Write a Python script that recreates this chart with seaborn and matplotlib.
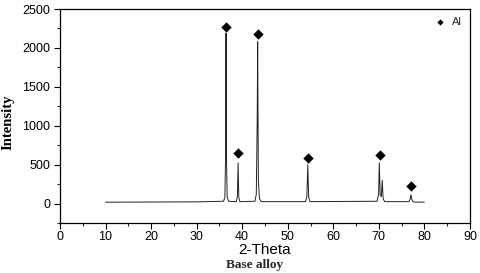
import matplotlib
matplotlib.use("Agg")
import matplotlib.pyplot as plt
import seaborn as sns
import pandas as pd
from matplotlib.ticker import MultipleLocator

# traced XRD profile (2-theta, intensity)
two_theta = [10.0, 20.0, 30.0, 35.9, 36.2, 36.35, 36.45, 36.55, 36.7, 37.0,
             38.7, 38.95, 39.1, 39.25, 39.5,
             42.8, 43.1, 43.3, 43.4, 43.55, 43.8, 44.2,
             53.9, 54.2, 54.4, 54.6, 54.9,
             69.6, 69.95, 70.1, 70.3, 70.55, 70.75, 70.95, 71.3,
             76.6, 76.9, 77.05, 77.25, 77.6, 80.0]
intensity = [18, 20, 22, 30, 80, 600, 2190, 600, 90, 30,
             25, 90, 525, 80, 25,
             30, 120, 1100, 2080, 300, 60, 25,
             25, 90, 500, 80, 25,
             30, 120, 525, 110, 90, 300, 60, 25,
             25, 60, 115, 50, 20, 18]

# peak markers (Al)
peak_theta = [36.5, 39.1, 43.5, 54.4, 70.2, 77.1]
peak_mark = [2270, 650, 2180, 590, 625, 230]

df = pd.DataFrame({"x": two_theta, "y": intensity})
pk = pd.DataFrame({"x": peak_theta, "y": peak_mark})

sns.set_theme(style="white")
plt.rcParams["font.family"] = ["Liberation Sans", "DejaVu Sans"]

fig = plt.figure(figsize=(4.8, 2.73), dpi=100)
ax = fig.add_axes([0.125, 0.183, 0.854, 0.784])

sns.lineplot(data=df, x="x", y="y", ax=ax, color="#222222", linewidth=0.7,
             estimator=None, sort=False)
sns.scatterplot(data=pk, x="x", y="y", ax=ax, marker="D", s=28, color="black",
                edgecolor="black", linewidth=0, label="Al", zorder=3)

ax.set_xlim(0, 90)
ax.set_ylim(-250, 2500)
ax.xaxis.set_major_locator(MultipleLocator(10))
ax.xaxis.set_minor_locator(MultipleLocator(5))
ax.yaxis.set_major_locator(MultipleLocator(500))
ax.yaxis.set_minor_locator(MultipleLocator(250))
ax.tick_params(axis="both", which="major", direction="out", length=4, width=0.8,
               labelsize=9, colors="black", bottom=True, left=True)
ax.tick_params(axis="x", which="major", pad=1.5)
ax.tick_params(axis="y", which="major", pad=3)
ax.tick_params(axis="both", which="minor", direction="out", length=2, width=0.8,
               bottom=True, left=True)
for s in ax.spines.values():
    s.set_color("black")
    s.set_linewidth(0.9)

ax.set_xlabel("2-Theta", fontsize=11, labelpad=0, color="black")
ax.set_ylabel("Intensity", fontsize=10.5, fontweight="bold",
              family=["Liberation Serif"], color="black", va="center")
ax.yaxis.set_label_coords(-0.127, 0.47)
fig.text(0.53, 0.028, "Base alloy", ha="center", va="center", fontsize=9.5,
         fontweight="bold", family=["Liberation Serif"])

leg = ax.legend(loc="upper right", frameon=False, fontsize=8, markerscale=0.6,
                handletextpad=0.1, borderaxespad=0.3)

fig.savefig("out.png", dpi=100)
